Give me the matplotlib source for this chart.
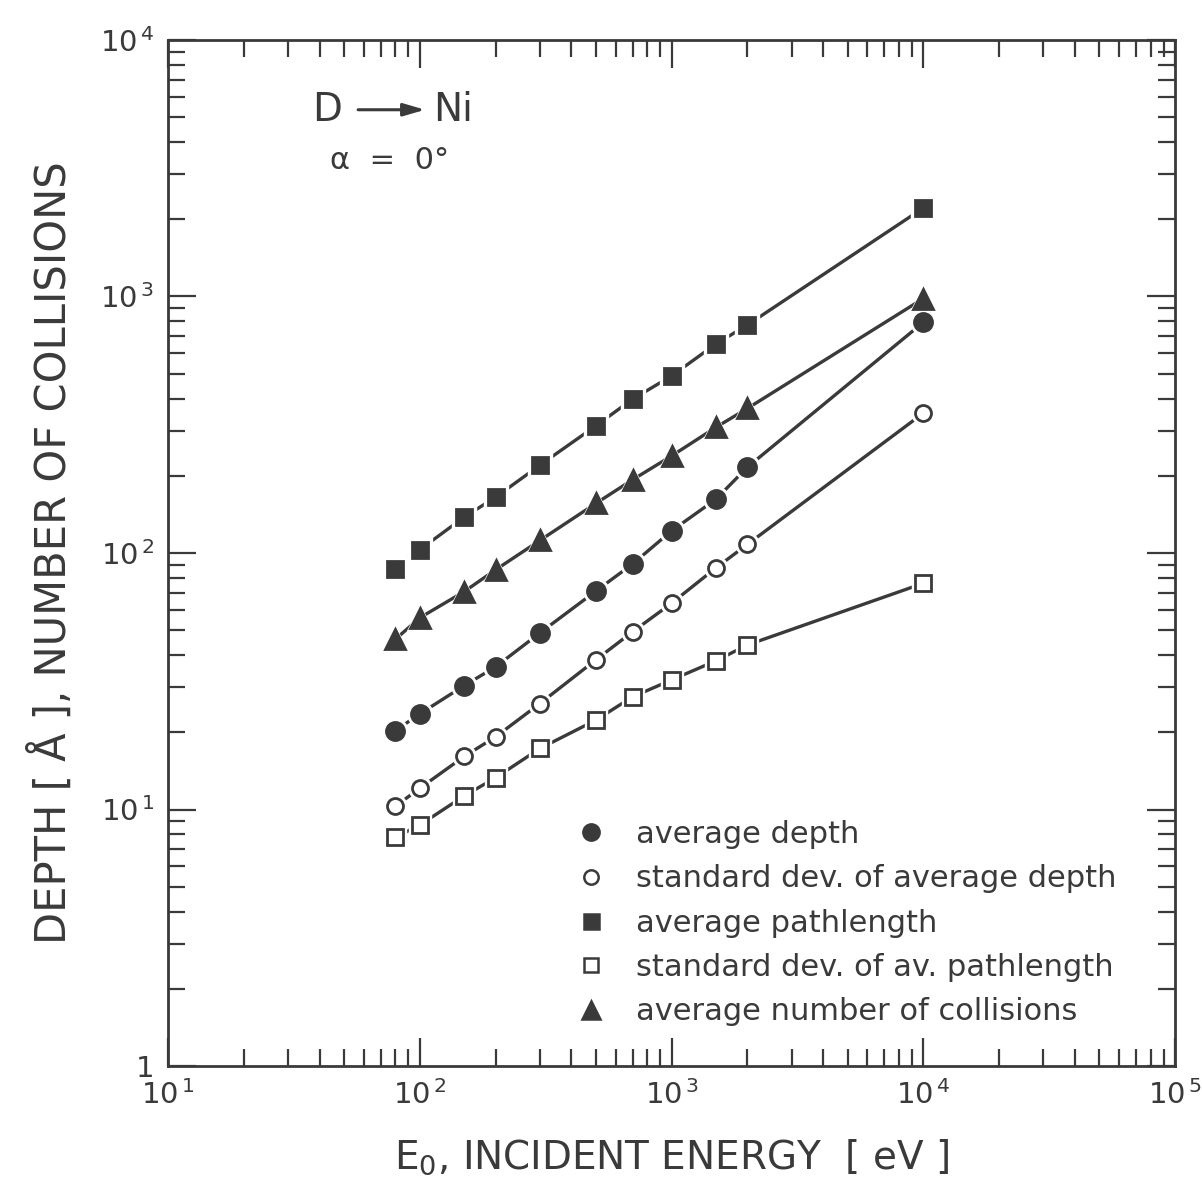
import matplotlib
matplotlib.use("Agg")
import matplotlib.pyplot as plt
from matplotlib.lines import Line2D
from matplotlib.ticker import LogLocator, FuncFormatter, NullFormatter

energy = [80, 100, 150, 200, 300, 500, 700, 1000, 1500, 2000, 10000]
avg_depth = [20.3, 23.6, 30.4, 36.0, 48.8, 71.0, 90.6, 122, 162, 216, 793]
std_depth = [10.3, 12.1, 16.1, 19.2, 25.9, 38.3, 49.3, 63.7, 87.5, 108, 351]
avg_path = [87, 103, 138, 165, 220, 313, 398, 490, 653, 774, 2213]
std_path = [7.8, 8.7, 11.3, 13.3, 17.3, 22.3, 27.5, 32.0, 38.0, 43.8, 76.2]
avg_coll = [46.1, 55.9, 70.7, 86, 112, 156, 193, 239, 309, 366, 982]

labels = ["average depth", "standard dev. of average depth", "average pathlength",
          "standard dev. of av. pathlength", "average number of collisions"]

C = "#3a3a3a"
series = [
    (avg_depth, "o", 13, C, labels[0]),
    (std_depth, "o", 11.5, "white", labels[1]),
    (avg_path, "s", 12, C, labels[2]),
    (std_path, "s", 11, "white", labels[3]),
    (avg_coll, "^", 14, C, labels[4]),
]

fig = plt.figure(figsize=(12.02, 11.97), dpi=100)
ax = fig.add_axes([0.1398, 0.1094, 0.8378, 0.8572])
ax.set_xscale("log")
ax.set_yscale("log")
ax.set_xlim(10, 1e5)
ax.set_ylim(1, 1e4)

for vals, m, ms, fc, lab in series:
    ax.plot(energy, vals, color=C, lw=2.4, zorder=2)
    ax.plot(energy, vals, ls="none", marker=m, ms=ms + 5, mfc="white", mec="white", zorder=3)
    ax.plot(energy, vals, ls="none", marker=m, ms=ms, mfc=fc, mec=C, mew=2.0, zorder=4)

handles = [Line2D([], [], ls="none", marker=m, ms=ms * 0.9, mfc=fc, mec=C, mew=1.8)
           for vals, m, ms, fc, lab in series]
leg = ax.legend(handles, labels, loc="lower left", bbox_to_anchor=(0.378, 0.012),
                frameon=False, fontsize=22, handlelength=1.0, handletextpad=0.95,
                labelspacing=0.5, labelcolor=C)

for a in (ax.xaxis, ax.yaxis):
    a.set_major_locator(LogLocator(base=10, numticks=10))
    a.set_minor_locator(LogLocator(base=10, subs=range(2, 10), numticks=20))
    a.set_minor_formatter(NullFormatter())


def fmt(v, pos):
    import math
    e = int(round(math.log10(v)))
    if e == 0:
        return "1"
    return r"$\mathregular{10^{\,%d}}$" % e


ax.xaxis.set_major_formatter(FuncFormatter(fmt))
ax.yaxis.set_major_formatter(FuncFormatter(fmt))
ax.tick_params(which="both", direction="in", top=True, right=True, colors=C,
               labelsize=21, width=1.6)
ax.tick_params(which="major", length=20, pad=10)
ax.tick_params(which="minor", length=12)
for s in ax.spines.values():
    s.set_linewidth(2)
    s.set_color(C)

lab_font = dict(fontsize=28, color=C)
ax.set_xlabel(r"E$_{\mathregular{0}}$, INCIDENT ENERGY  [ eV ]", labelpad=20, **lab_font)
ax.set_ylabel("DEPTH [ Å ], NUMBER OF COLLISIONS", labelpad=18, fontsize=30, color=C)

ax.text(0.158, 0.932, "D", transform=ax.transAxes, ha="center", va="center",
        fontsize=28, color=C)
ax.text(0.283, 0.932, "Ni", transform=ax.transAxes, ha="center", va="center",
        fontsize=28, color=C)
ax.annotate("", xy=(0.258, 0.932), xytext=(0.186, 0.932), xycoords="axes fraction",
            arrowprops=dict(arrowstyle="-|>,head_length=1.3,head_width=0.38", color=C, lw=2.2))
ax.text(0.22, 0.883, "α  =  0°", transform=ax.transAxes, ha="center", va="center",
        fontsize=22, color=C)

fig.savefig("out.png", dpi=100, facecolor="white")
